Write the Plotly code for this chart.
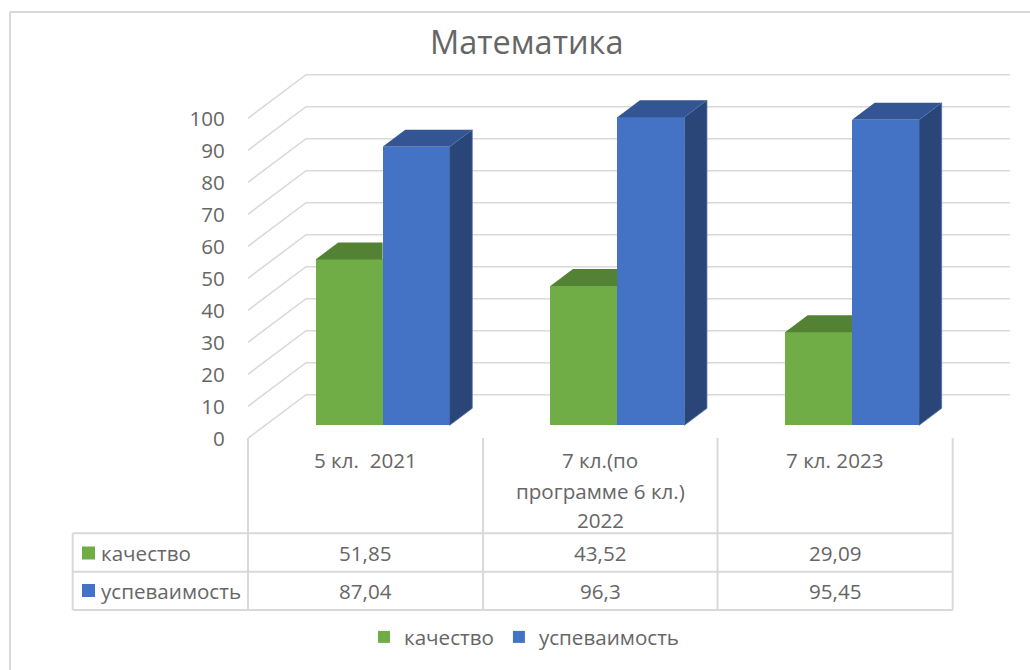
import plotly.graph_objects as go

title = "Математика"
category_lines = [["5 кл.  2021"], ["7 кл.(по", "программе 6 кл.)", "2022"], ["7 кл. 2023"]]
series_names = ["качество", "успеваимость"]
quality = [51.85, 43.52, 29.09]
progress = [87.04, 96.3, 95.45]
tick_values = list(range(0, 101, 10))

FRONT = ["#70AD47", "#4472C4"]
TOP = ["#548235", "#335593"]
SIDE = ["#4F7A32", "#2A4678"]
EDGE = ["#548235", "#4B6FAE"]
TEXT = "#666666"
LINE = "#D9D9D9"
FONT = "Open Sans"
FS = 20.6
W, H = 1030, 670

# plot-area geometry in pixels (front plane of the floor)
PL, PR, PT, PB = 248, 1012, 60, 438.3
CAT_PX, VAL_PX = 234.7, 3.2
DX, DY = 58 / CAT_PX, 43.6 / VAL_PX      # full depth of the 3D box, in data units
D0, D1 = 0.298, 0.688                    # bar front / back depth
BAR_W = 67 / CAT_PX


def proj(x, v, d):
    return x + d * DX, v + d * DY


def px(x):
    return x / W


def py(y):
    return 1 - y / H


fig = go.Figure()
xmin, xmax = -0.5, 2.5
shapes = []

# gridlines: floor diagonal + back wall line
for v in tick_values:
    a = proj(xmin, v, 0)
    b = proj(xmin, v, 1)
    c = proj(xmax, v, 1)
    shapes.append(dict(type="path", xref="x", yref="y", layer="below",
                       path=f"M{a[0]},{a[1]}L{b[0]},{b[1]}L{c[0]},{c[1]}",
                       line=dict(color=LINE, width=1.6)))

# front faces
for s, (name, vals) in enumerate(zip(series_names, [quality, progress])):
    fig.add_trace(go.Bar(
        x=[i + D0 * DX + (s - 0.5) * BAR_W for i in range(3)],
        y=vals,
        base=[D0 * DY] * 3,
        width=BAR_W,
        name=name,
        marker=dict(color=FRONT[s], line=dict(width=0)),
        hoverinfo="name+y",
    ))

# top and side faces
for s, vals in enumerate([quality, progress]):
    for i, v in enumerate(vals):
        cx = i + D0 * DX
        left = cx + (s - 1) * BAR_W
        right = cx + s * BAR_W
        base = D0 * DY
        shift_x = (D1 - D0) * DX
        shift_y = (D1 - D0) * DY
        y_front = base + v
        if s == 0:
            xs = [left, left + shift_x, right, right, left]
            ys = [y_front, y_front + shift_y, y_front + shift_y, y_front, y_front]
        else:
            xs = [left, left + shift_x, right + shift_x, right, left]
            ys = [y_front, y_front + shift_y, y_front + shift_y, y_front, y_front]
        fig.add_trace(go.Scatter(x=xs, y=ys, mode="lines", fill="toself", fillcolor=TOP[s],
                                 line=dict(width=0, color=TOP[s]), showlegend=False,
                                 hoverinfo="skip", cliponaxis=False))
        if s == 1:
            xs = [right, right + shift_x, right + shift_x, right, right]
            ys = [y_front, y_front + shift_y, base + shift_y, base, y_front]
            fig.add_trace(go.Scatter(x=xs, y=ys, mode="lines", fill="toself", fillcolor=SIDE[s],
                                     line=dict(width=0.75, color=EDGE[s]), showlegend=False,
                                     hoverinfo="skip", cliponaxis=False))

# frame
line = dict(color=LINE, width=2)
for x0, y0, x1, y1 in [(10, 12, W, 12), (10, 12, 10, H)]:
    shapes.append(dict(type="line", xref="paper", yref="paper", x0=px(x0), x1=px(x1),
                       y0=py(y0), y1=py(y1), line=line))

# data table
TBL_L, TBL_T, ROW1, ROW2, TBL_B = 72.7, 438, 533.3, 571.7, 610
cols = [248, 483, 717.5, 952.7]
for x in cols:
    shapes.append(dict(type="line", xref="paper", yref="paper", x0=px(x), x1=px(x),
                       y0=py(TBL_T), y1=py(TBL_B), line=line))
shapes.append(dict(type="line", xref="paper", yref="paper", x0=px(TBL_L), x1=px(TBL_L),
                   y0=py(ROW1), y1=py(TBL_B), line=line))
for y in [ROW1, ROW2, TBL_B]:
    shapes.append(dict(type="line", xref="paper", yref="paper", x0=px(TBL_L), x1=px(cols[-1]),
                       y0=py(y), y1=py(y), line=line))

annotations = []
rows = [(552.5, 553, quality), (591, 590.5, progress)]
for s, (yc, ky, vals) in enumerate(rows):
    shapes.append(dict(type="rect", xref="paper", yref="paper", x0=px(82), x1=px(95),
                       y0=py(ky - 6.5), y1=py(ky + 6.5), fillcolor=FRONT[s], line=dict(width=0)))
    annotations.append(dict(xref="paper", yref="paper", x=px(98.5), y=py(yc), text=series_names[s],
                            showarrow=False, xanchor="left", yanchor="middle",
                            font=dict(family=FONT, size=FS, color=TEXT)))
    for i, v in enumerate(vals):
        annotations.append(dict(xref="x", yref="paper", x=i, y=py(yc), text=str(v).replace(".", ","),
                                showarrow=False, xanchor="center", yanchor="middle",
                                font=dict(family=FONT, size=FS, color=TEXT)))

# further lines of the category labels: the source spaces them wider than a tick label's <br>
for i, lines in enumerate(category_lines):
    for n, text in enumerate(lines[1:], start=1):
        annotations.append(dict(xref="x", yref="paper", x=i, y=py(462 + 29 * n), text=text,
                                showarrow=False, xanchor="center", yanchor="middle",
                                font=dict(family=FONT, size=FS, color=TEXT)))

fig.update_layout(
    width=W, height=H, autosize=False,
    margin=dict(l=0, r=0, t=0, b=0),
    paper_bgcolor="white", plot_bgcolor="rgba(0,0,0,0)",
    barmode="overlay", bargap=0,
    title=dict(text=title, x=526.7 / W, xanchor="center", y=py(43), yanchor="middle",
               font=dict(family=FONT, size=32.5, color=TEXT)),
    xaxis=dict(domain=[px(PL), px(PR)], range=[xmin, xmin + (PR - PL) / CAT_PX],
               showgrid=False, zeroline=False, showline=False,
               tickmode="array", tickvals=[0, 1, 2], ticktext=[c[0] for c in category_lines],
               ticks="outside", ticklen=4, tickcolor="rgba(0,0,0,0)",
               tickfont=dict(family=FONT, size=FS, color=TEXT), tickangle=0, automargin=False),
    yaxis=dict(domain=[py(PB), py(PT)], range=[0, (PB - PT) / VAL_PX],
               showgrid=False, zeroline=False, showline=False,
               tickmode="array", tickvals=tick_values,
               ticks="outside", ticklen=18, tickcolor="rgba(0,0,0,0)",
               tickfont=dict(family=FONT, size=FS, color=TEXT), automargin=False),
    legend=dict(orientation="h", x=364 / W, xanchor="left", y=py(637), yanchor="middle",
                font=dict(family=FONT, size=FS, color=TEXT), bgcolor="rgba(0,0,0,0)"),
    shapes=shapes,
    annotations=annotations,
)

fig.write_html("out.html", config=dict(displayModeBar=False),
               post_script="document.body.style.margin='0';")
